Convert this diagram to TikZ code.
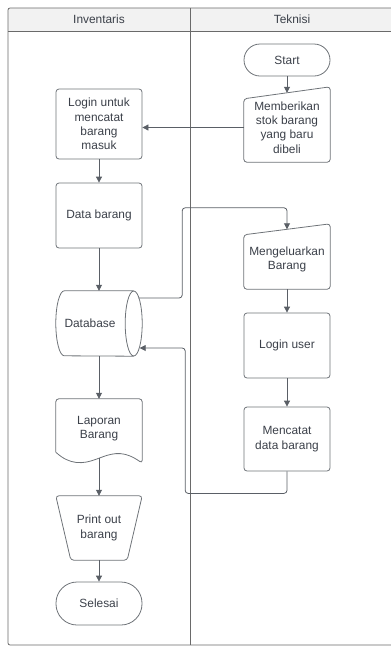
\documentclass[tikz,border=0pt]{standalone}
\usepackage{fontspec}
\setmainfont{Liberation Sans}
\usetikzlibrary{arrows.meta,calc}
\definecolor{txtc}{HTML}{3B4049}
\definecolor{edgec}{HTML}{6E7378}
\definecolor{linec}{HTML}{5A5F66}
\definecolor{framec}{HTML}{6A6A6A}
\definecolor{headfill}{HTML}{F2F2F2}
\begin{document}
\begin{tikzpicture}[x=1pt,y=-1pt,
 every node/.style={font=\fontsize{11.9}{14.3}\selectfont, text=txtc, align=center, inner sep=0pt},
 proc/.style={draw=edgec, line width=0.8pt, rounded corners=3pt, minimum width=86pt},
 ghost/.style={minimum width=86pt},
 shp/.style={draw=edgec, line width=0.8pt, rounded corners=3pt},
 cyl/.style={draw=edgec, line width=0.8pt},
 frame/.style={draw=framec, line width=0.8pt},
 arr/.style={draw=linec, line width=0.8pt, -{Triangle[length=6pt,width=6pt]}}]
\useasboundingbox (0,0) rectangle (391,646);
% lanes
\fill[headfill] (8,8) rectangle (391,31);
\draw[frame, rounded corners=2pt] (391,8) -- (8,8) -- (8,645) -- (391,645);
\draw[frame] (8,31) -- (391,31);
\draw[frame] (190,8) -- (190,645);
\node (h1) at (99,19.5) {Inventaris};
\node (h2) at (292,19.5) {Teknisi};
% nodes
\node[proc, minimum height=32pt, rounded corners=16pt] (start) at (287,60) {Start};
\node[ghost, minimum height=69pt] (memb) at (287,127.5) {Memberikan\\stok barang\\yang baru\\dibeli};
\node[proc, minimum height=70pt] (login) at (99,124) {Login untuk\\mencatat\\barang\\masuk};
\node[proc, minimum height=65pt] (data) at (99,215.5) {Data barang};
\node[ghost, minimum height=65pt] (db) at (99,323.5) {Database\hspace{18pt}};
\node[ghost, minimum height=59pt] (lap) at (99,428.5) {Laporan\\Barang};
\node[ghost, minimum height=64pt] (pr) at (99,528) {Print out\\barang};
\node[proc, minimum height=43pt, rounded corners=21pt] (end) at (99,603.5) {Selesai};
\node[ghost, minimum height=59.5pt] (mengel) at (287,259.25) {Mengeluarkan\\Barang};
\node[proc, minimum height=65pt] (luser) at (287,345.5) {Login user};
\node[proc, minimum height=64pt] (catat) at (287,439) {Mencatat\\data barang};
% custom shapes
\draw[shp] (memb.south west) -- ([yshift=-6pt]memb.north west) -- ([yshift=6pt]memb.north east) -- (memb.south east) -- cycle;
\draw[shp] (mengel.south west) -- ([yshift=-5.5pt]mengel.north west) -- ([yshift=5.5pt]mengel.north east) -- (mengel.south east) -- cycle;
\draw[cyl] ([xshift=-8.5pt]db.north east) -- ([xshift=8.5pt]db.north west) arc[start angle=90,end angle=270,x radius=8.5pt,y radius=32.5pt] -- ([xshift=-8.5pt]db.south east);
\draw[cyl] ([xshift=-8.5pt]db.east) ellipse [x radius=8.5pt, y radius=32.5pt];
\draw[shp] ([yshift=6pt]lap.south west) -- (lap.north west) -- (lap.north east) -- ([yshift=-5pt]lap.south east)
  .. controls ([xshift=-17pt,yshift=7pt]lap.south east) and ([xshift=16pt,yshift=6pt]lap.south) .. (lap.south)
  .. controls ([xshift=-16pt,yshift=-6pt]lap.south) and ([xshift=14pt,yshift=-7pt]lap.south west) .. ([yshift=6pt]lap.south west);
\draw[shp] (pr.north west) -- (pr.north east) -- ([xshift=-15pt]pr.south east) -- ([xshift=15pt]pr.south west) -- cycle;
% connectors
\draw[arr] (start.south) -- (memb.north);
\draw[arr] (memb.west) -- (memb.west -| login.east);
\draw[arr] (login.south) -- (data.north);
\draw[arr] (data.south) -- (db.north);
\draw[arr] (db.south) -- (lap.north);
\draw[arr] (lap.south) -- (pr.north);
\draw[arr] (pr.south) -- (end.north);
\draw[arr] (mengel.south) -- (luser.north);
\draw[arr] (luser.south) -- (catat.north);
\coordinate (dbout) at ([xshift=-3.7pt,yshift=25.5pt]db.east);
\coordinate (dbin) at ([xshift=-2.5pt,yshift=-24.5pt]db.east);
\draw[arr, rounded corners=3pt] (dbout) -- ([xshift=43.7pt]dbout) |- ([yshift=21.5pt]mengel.north) -- (mengel.north);
\draw[arr, rounded corners=3pt] (catat.south) -- ([yshift=-22pt]catat.south) -| ([xshift=45.5pt]dbin) -- (dbin);
\end{tikzpicture}
\end{document}
